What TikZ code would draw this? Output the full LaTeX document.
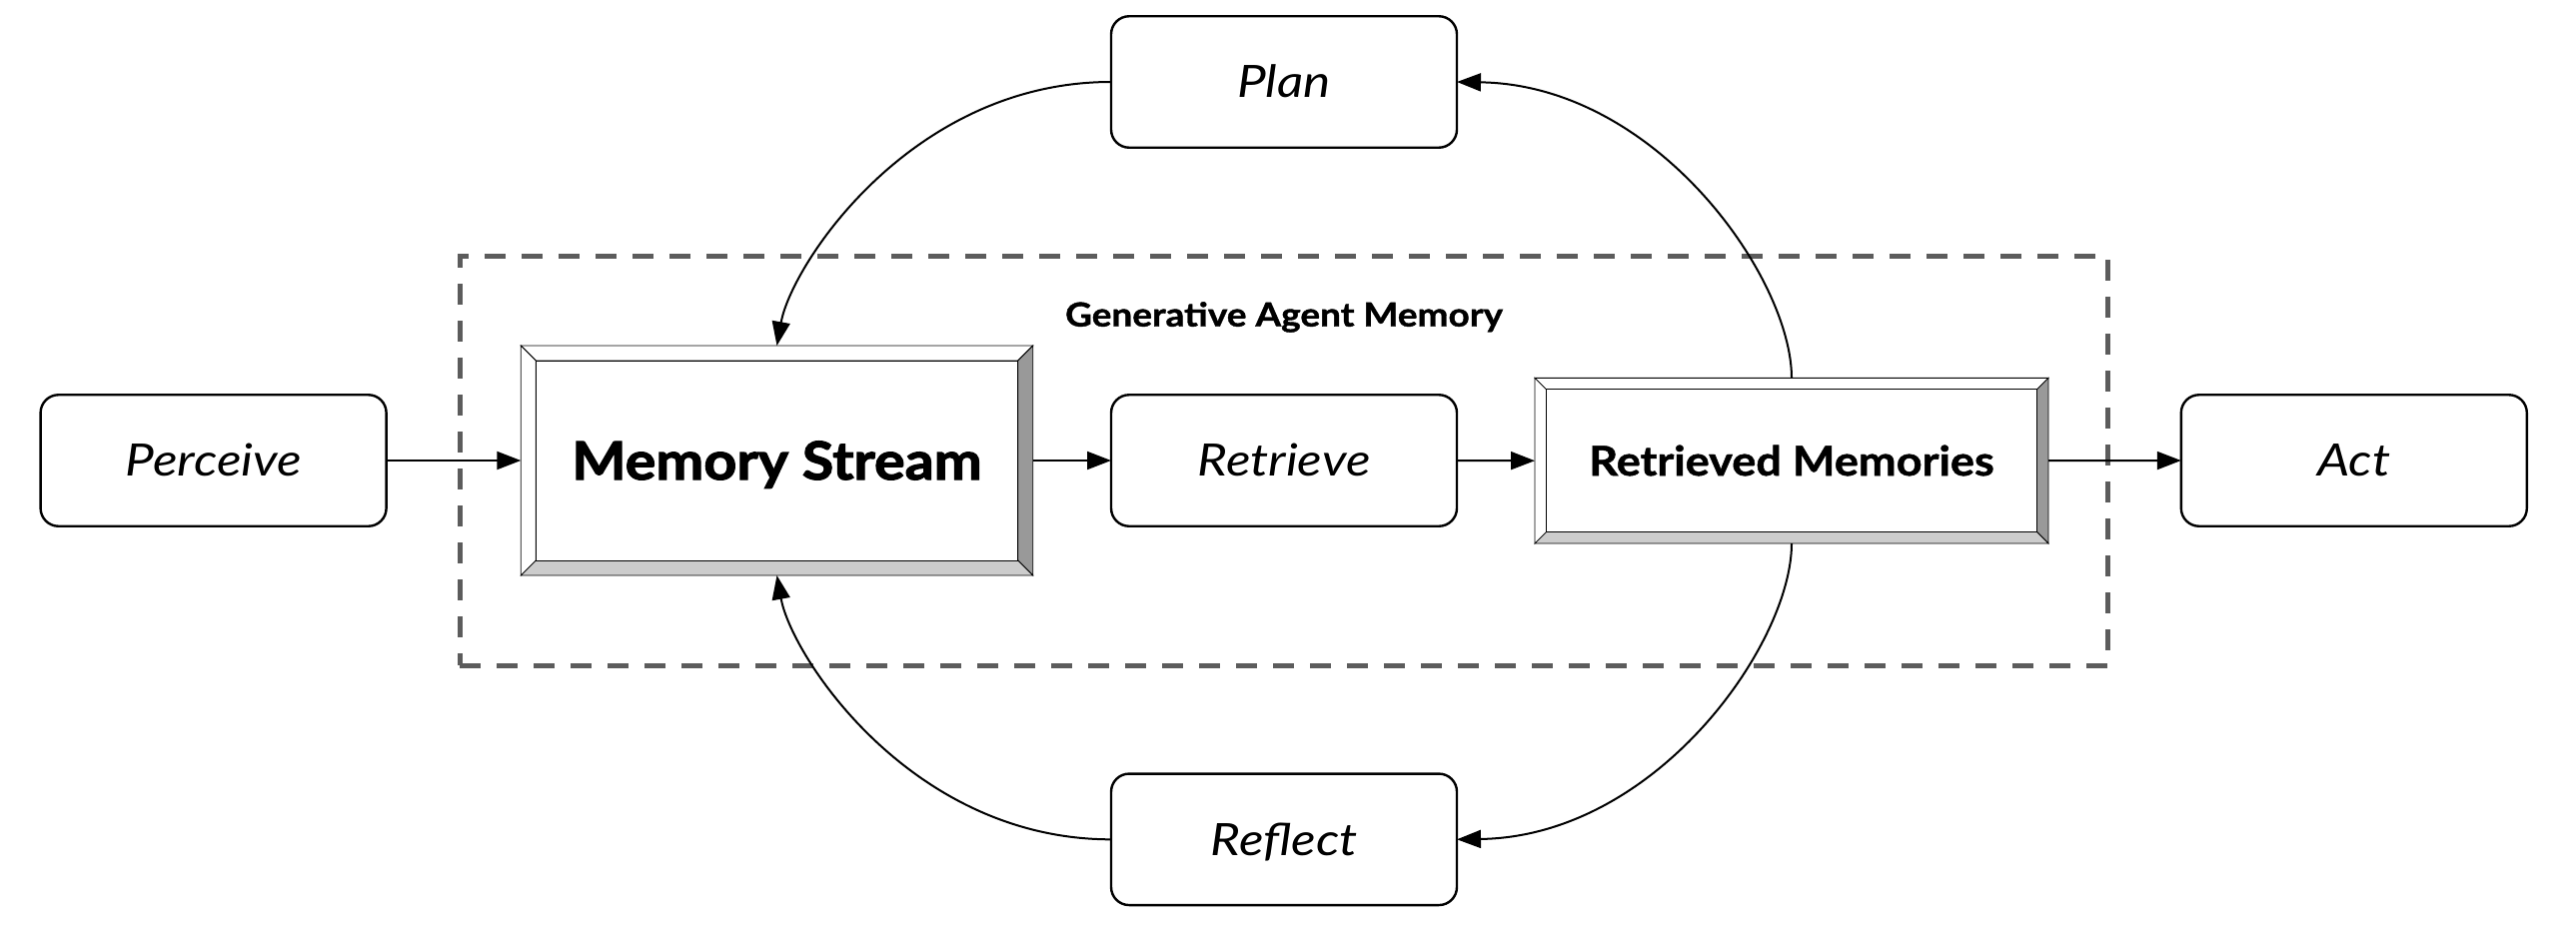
\documentclass[tikz,border=0pt]{standalone}
\usepackage{fontspec}
\setmainfont{Lato}
\newfontfamily\labelfont[FakeStretch=1.15]{Lato}
\newfontfamily\msfont[FakeStretch=1.09,FakeBold=2.2]{Lato}
\newfontfamily\rmfont[FakeStretch=1.1,FakeBold=1.2]{Lato}
\newfontfamily\gamfont[FakeStretch=1.12,FakeBold=1.2]{Lato}
\usetikzlibrary{arrows.meta,calc,backgrounds}
\definecolor{bevline}{HTML}{666666}
\definecolor{bevdark}{HTML}{999999}
\definecolor{bevlight}{HTML}{CCCCCC}
\definecolor{dashcol}{HTML}{5C5C5C}
\newcommand\capc[1]{\vphantom{H}\smash{#1}}
\newcommand\bevelframe[2]{%
  \begin{scope}[on background layer, draw=bevline, line width=1.3pt, line join=miter]
    \coordinate (#1-NW) at (#1.north west);
    \coordinate (#1-NE) at (#1.north east);
    \coordinate (#1-SE) at (#1.south east);
    \coordinate (#1-SW) at (#1.south west);
    \coordinate (#1-nw) at ($(#1.north west)+(#2,#2)$);
    \coordinate (#1-ne) at ($(#1.north east)+(-#2,#2)$);
    \coordinate (#1-se) at ($(#1.south east)+(-#2,-#2)$);
    \coordinate (#1-sw) at ($(#1.south west)+(#2,-#2)$);
    \filldraw[fill=white] (#1-NW) -- (#1-NE) -- (#1-ne) -- (#1-nw) -- cycle;
    \filldraw[fill=white] (#1-NW) -- (#1-nw) -- (#1-sw) -- (#1-SW) -- cycle;
    \filldraw[fill=bevdark] (#1-NE) -- (#1-SE) -- (#1-se) -- (#1-ne) -- cycle;
    \filldraw[fill=bevlight] (#1-SW) -- (#1-sw) -- (#1-se) -- (#1-SE) -- cycle;
    \filldraw[fill=white] (#1-nw) -- (#1-ne) -- (#1-se) -- (#1-sw) -- cycle;
  \end{scope}}

\begin{document}
\begin{tikzpicture}[x=0.5pt,y=-0.5pt,
  stepbox/.style={draw=black, line width=1.2pt, rounded corners=9pt, fill=white,
    minimum width=173pt, minimum height=65.75pt, inner sep=0pt, outer sep=0pt,
    font=\labelfont\fontsize{22.3pt}{26pt}\selectfont\itshape},
  bevelbox/.style={inner sep=0pt, outer sep=0pt},
  conn/.style={draw=black, line width=1pt, -{Triangle[length=12pt,width=9pt]}},
  dashedbox/.style={draw=dashcol, line width=2.5pt, dash pattern=on 10.5pt off 8pt,
    inner sep=0pt, outer sep=0pt},
  titletext/.style={inner sep=0pt, font=\gamfont\fontsize{16.5pt}{20pt}\selectfont\bfseries}
]
\begin{scope}[on background layer]
  \fill[white] (0,0) rectangle (2578,942);
\end{scope}
\useasboundingbox (0,0) rectangle (2578,942);

% dashed group
\node[dashedbox, minimum width=824.75pt, minimum height=205pt] (gam) at (1284.75,461) {};
\node[titletext] (gamt) at (1285,314.8) {\capc{Generative Agent Memory}};

% step boxes
\node[stepbox] (per)  at (213.6,461)  {\capc{Perceive}};
\node[stepbox] (plan) at (1285,82)    {\capc{Plan}};
\node[stepbox] (ret)  at (1285,461)   {\capc{Retrieve}};
\node[stepbox] (refl) at (1285,840.3) {\capc{Reflect}};
\node[stepbox] (act)  at (2355.8,461) {\capc{Act}};

% bevelled boxes
\node[bevelbox, minimum width=256.2pt, minimum height=115pt,
  font=\msfont\fontsize{26.3pt}{30pt}\selectfont\bfseries] (ms) at (777.5,461) {\capc{Memory Stream}};
\bevelframe{ms}{15}
\node[bevelbox, minimum width=257pt, minimum height=82.85pt,
  font=\rmfont\fontsize{20.5pt}{24pt}\selectfont\bfseries] (rm) at (1793,461.2) {\capc{Retrieved Memories}};
\bevelframe{rm}{11.5}

% straight connectors
\draw[conn] (per.east) -- (ms.west);
\draw[conn] (ms.east) -- (ret.west);
\draw[conn] (ret.east) -- (rm.west);
\draw[conn] (rm.east) -- (act.west);

% curved connectors
\draw[conn] (plan.west) .. controls ($(plan.west)+(-200,0)$) and ($(ms.north)+(14.5,-81)$) .. (ms.north);
\draw[conn] (rm.north) .. controls ($(rm.north)+(0,-100)$) and ($(plan.east)+(200,3)$) .. (plan.east);
\draw[conn] (rm.south) .. controls ($(rm.south)+(0,100)$) and ($(refl.east)+(200,-3)$) .. (refl.east);
\draw[conn] (refl.west) .. controls ($(refl.west)+(-200,0)$) and ($(ms.south)+(14.5,81)$) .. (ms.south);
\end{tikzpicture}
\end{document}
